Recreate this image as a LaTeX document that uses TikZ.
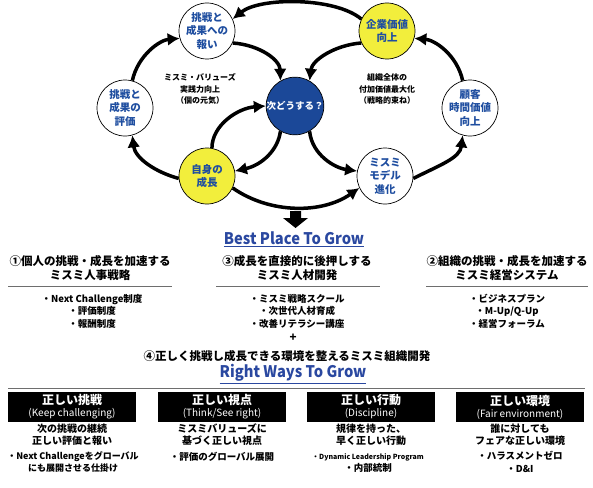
\documentclass[tikz,border=0pt]{standalone}
\usepackage{fontspec}
\setmainfont{Noto Sans CJK JP}
\usepackage{tikz}
\usetikzlibrary{arrows.meta, positioning}

\definecolor{valblue}{RGB}{31,78,160}
\definecolor{hubblue}{RGB}{27,72,152}
\definecolor{goalyellow}{RGB}{242,238,60}
\definecolor{mottoblue}{RGB}{42,72,160}
\definecolor{rulegray}{RGB}{110,110,110}

\begin{document}
\begin{tikzpicture}[x=1pt, y=-1pt,
    circ/.style={circle, draw, line width=0.7pt, fill=white, minimum size=56pt, inner sep=0pt,
        align=center, text=valblue, font=\bfseries\fontsize{10.5}{13.5}\selectfont},
    goal/.style={circ, fill=goalyellow},
    hub/.style={circ, fill=hubblue, text=white, font=\bfseries\fontsize{9.5}{11}\selectfont},
    flow/.style={line width=3.5pt, -{Latex[length=12pt,width=13pt]}},
    note/.style={align=center, font=\bfseries\fontsize{8}{11.5}\selectfont},
    head/.style={align=center, font=\bfseries\fontsize{11.5}{14}\selectfont},
    item/.style={align=center, font=\bfseries\fontsize{9.5}{12.5}\selectfont},
    motto/.style={text=mottoblue, font=\bfseries\fontsize{16}{18}\selectfont},
    tag/.style={fill=black, text=white, minimum width=128pt, minimum height=30pt, inner sep=0pt, align=center},
    desc/.style={align=center, font=\bfseries\fontsize{10}{12}\selectfont}]
    \useasboundingbox (0,0) rectangle (593,487);

    % サイクル図
    \node[circ] (reward) at (207,31) {挑戦と\\成果への\\報い};
    \node[goal] (corp) at (387,31) {企業価値\\向上};
    \node[circ] (evalu) at (125,108) {挑戦と\\成果の\\評価};
    \node[hub] (next) at (295,106) {次どうする？};
    \node[circ] (cust) at (470,108) {顧客\\時間価値\\向上};
    \node[goal] (self) at (207,176) {自身の\\成長};
    \node[circ] (model) at (385,176) {ミスミ\\モデル\\進化};

    \node[note] (vals) at (200,89) {ミスミ・バリューズ\\実践力向上\\（個の元気）};
    \node[note] (whole) at (387,89) {組織全体の\\付加価値最大化\\（戦略的束ね）};

    \draw[flow] (corp.155) .. controls (335,-3) and (260,-3) .. (reward.25);
    \draw[flow] (reward.-25) .. controls (260,45) and (280,60) .. (next.120);
    \draw[flow] (corp.205) .. controls (335,45) and (312,60) .. (next.60);
    \draw[flow] (next.240) .. controls (278,150) and (262,165) .. (self.10);
    \draw[flow] (self.80) .. controls (212,125) and (238,108) .. (next.180);
    \draw[flow] (next.300) .. controls (312,155) and (335,168) .. (model.170);
    \draw[flow] (self.-25) .. controls (270,214) and (322,214) .. (model.205);
    \draw[flow] (self.185) .. controls (155,172) and (135,158) .. (evalu.-75);
    \draw[flow] (evalu.75) .. controls (138,55) and (160,40) .. (reward.195);
    \draw[flow] (model.-5) .. controls (440,165) and (460,158) .. (cust.-105);
    \draw[flow] (cust.105) .. controls (457,55) and (435,40) .. (corp.-15);

    % 下向き矢印
    \fill (290,211) -- (301,211) -- (301,218) -- (308,218) -- (295.5,228)
        -- (283,218) -- (290,218) -- cycle;

    % Best Place To Grow
    \node[motto] (best) at (294,239) {\underline{\scalebox{0.92}[1]{Best Place To Grow}}};

    \node[head] (hr) at (90,268) {①個人の挑戦・成長を加速する\\ミスミ人事戦略};
    \node[head] (dev) at (297,268) {③成長を直接的に後押しする\\ミスミ人材開発};
    \node[head] (sys) at (507,268) {②組織の挑戦・成長を加速する\\ミスミ経営システム};
    \draw[rulegray, line width=0.8pt] (8,286) -- (172,286);
    \draw[rulegray, line width=0.8pt] (216,286) -- (380,286);
    \draw[rulegray, line width=0.8pt] (426,286) -- (588,286);

    \node[item] (hritems) at (92,311) {・Next Challenge制度\\・評価制度\\・報酬制度};
    \node[item] (devitems) at (297,311) {・ミスミ戦略スクール\\・次世代人材育成\\・改善リテラシー講座};
    \node[item] (sysitems) at (507,311) {・ビジネスプラン\\・M-Up/Q-Up\\・経営フォーラム};

    \node[head] (plus) at (293,338) {+};
    \node[head] (org) at (287,356) {④正しく挑戦し成長できる環境を整えるミスミ組織開発};
    \node[motto] (right) at (293,374) {\underline{\scalebox{0.92}[1]{Right Ways To Grow}}};
    \draw[rulegray, line width=1pt] (8,388) -- (585,388);

    % 4つの正しさ
    \node[tag] (t1) at (72,407) {{\bfseries\fontsize{12}{14}\selectfont 正しい挑戦}\\{\fontsize{10}{12}\selectfont (Keep challenging)}};
    \node[tag] (t2) at (222,407) {{\bfseries\fontsize{12}{14}\selectfont 正しい視点}\\{\fontsize{10}{12}\selectfont (Think/See right)}};
    \node[tag] (t3) at (371,407) {{\bfseries\fontsize{12}{14}\selectfont 正しい行動}\\{\fontsize{10}{12}\selectfont (Discipline)}};
    \node[tag] (t4) at (520,407) {{\bfseries\fontsize{12}{14}\selectfont 正しい環境}\\{\fontsize{10}{12}\selectfont (Fair environment)}};

    \node[desc] (d1) at (72,435) {次の挑戦の継続\\正しい評価と報い};
    \node[desc] (d2) at (222,435) {ミスミバリューズに\\基づく正しい視点};
    \node[desc] (d3) at (371,435) {規律を持った、\\早く正しい行動};
    \node[desc] (d4) at (520,435) {誰に対しても\\フェアな正しい環境};

    \node[item, font=\bfseries\fontsize{9}{12}\selectfont] (b1) at (73,462) {・Next Challengeをグローバル\\にも展開させる仕掛け};
    \node[item] (b2) at (222,457) {・評価のグローバル展開};
    \node[item, font=\bfseries\fontsize{7}{10}\selectfont] (b3) at (368,457) {・Dynamic Leadership Program};
    \node[item] (b3b) at (368,468) {・内部統制};
    \node[item] (b4) at (520,462) {・ハラスメントゼロ\\・D\&I};
\end{tikzpicture}
\end{document}
